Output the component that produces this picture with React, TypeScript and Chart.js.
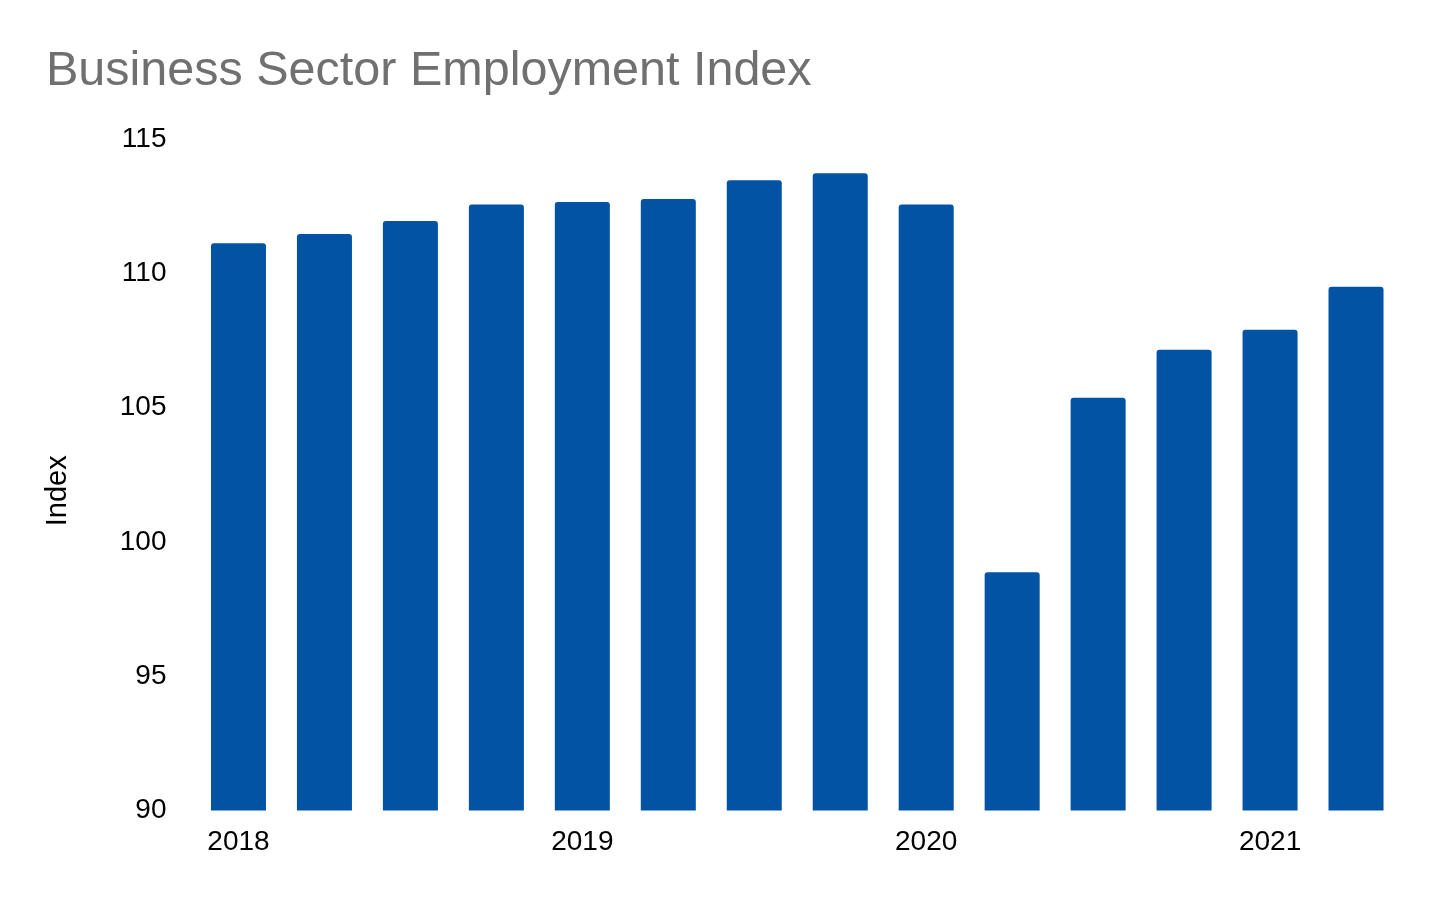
import { useEffect, useRef } from "react";
import { Chart, registerables } from "chart.js";

Chart.register(...registerables);

// quarterly periods, 2018 Q1 .. 2021 Q2
const quarters = [
  "2018 Q1", "2018 Q2", "2018 Q3", "2018 Q4",
  "2019 Q1", "2019 Q2", "2019 Q3", "2019 Q4",
  "2020 Q1", "2020 Q2", "2020 Q3", "2020 Q4",
  "2021 Q1", "2021 Q2",
];

const indexValues = [
  111.12, 111.47, 111.95, 112.57,
  112.66, 112.77, 113.47, 113.73,
  112.57, 98.87, 105.37, 107.16,
  107.9, 109.5,
];

const yearTicks = ["2018", "2019", "2020", "2021"];

const FONT = "'Liberation Sans', Arial, sans-serif";

// y axis title sits a little below the middle of the plot in the original
const yTitlePlugin = {
  id: "yTitle",
  afterDraw(chart: Chart) {
    const { ctx, chartArea } = chart;
    ctx.save();
    ctx.translate(58, (chartArea.top + chartArea.bottom) / 2 + 16);
    ctx.rotate(-Math.PI / 2);
    ctx.font = `29px ${FONT}`;
    ctx.fillStyle = "#000";
    ctx.textAlign = "center";
    ctx.textBaseline = "middle";
    ctx.fillText("Index", 0, 0);
    ctx.restore();
  },
};

export default function App() {
  const canvasRef = useRef<HTMLCanvasElement>(null);
  const chartRef = useRef<Chart | null>(null);

  useEffect(() => {
    if (!canvasRef.current) return;
    document.body.style.margin = "0";

    if (chartRef.current) {
      chartRef.current.destroy();
    }

    chartRef.current = new Chart(canvasRef.current, {
      type: "bar",
      data: {
        labels: quarters,
        datasets: [
          {
            label: "Index",
            data: indexValues,
            backgroundColor: "#0353a4",
            borderRadius: 3,
            barPercentage: 0.64,
            categoryPercentage: 1,
          },
        ],
      },
      options: {
        responsive: true,
        maintainAspectRatio: false,
        animation: false,
        layout: {
          padding: { left: 46, right: 57, top: 0, bottom: 26 },
        },
        plugins: {
          legend: { display: false },
          tooltip: { enabled: false },
          title: {
            display: true,
            text: "Business Sector Employment Index",
            align: "start",
            color: "#707070",
            font: { family: FONT, size: 48.5, weight: "normal" },
            padding: { top: 43, bottom: 38 },
          },
        },
        scales: {
          x: {
            grid: { display: false, drawTicks: false },
            border: { display: false },
            ticks: {
              autoSkip: false,
              maxRotation: 0,
              padding: 15,
              color: "#000",
              font: { family: FONT, size: 28 },
              callback: (_v, i) => (i % 4 === 0 ? yearTicks[i / 4] : ""),
            },
          },
          y: {
            min: 90,
            max: 115,
            grid: { display: false, drawTicks: false },
            border: { display: false },
            ticks: {
              stepSize: 5,
              padding: 29,
              color: "#000",
              font: { family: FONT, size: 28 },
            },
            afterFit: (scale) => {
              scale.width = 149.5;
            },
          },
        },
      },
      plugins: [yTitlePlugin],
    });

    return () => {
      if (chartRef.current) {
        chartRef.current.destroy();
        chartRef.current = null;
      }
    };
  }, []);

  return (
    <div style={{ position: "relative", width: "1456px", height: "900px", background: "#fff" }}>
      <canvas ref={canvasRef} />
    </div>
  );
}
